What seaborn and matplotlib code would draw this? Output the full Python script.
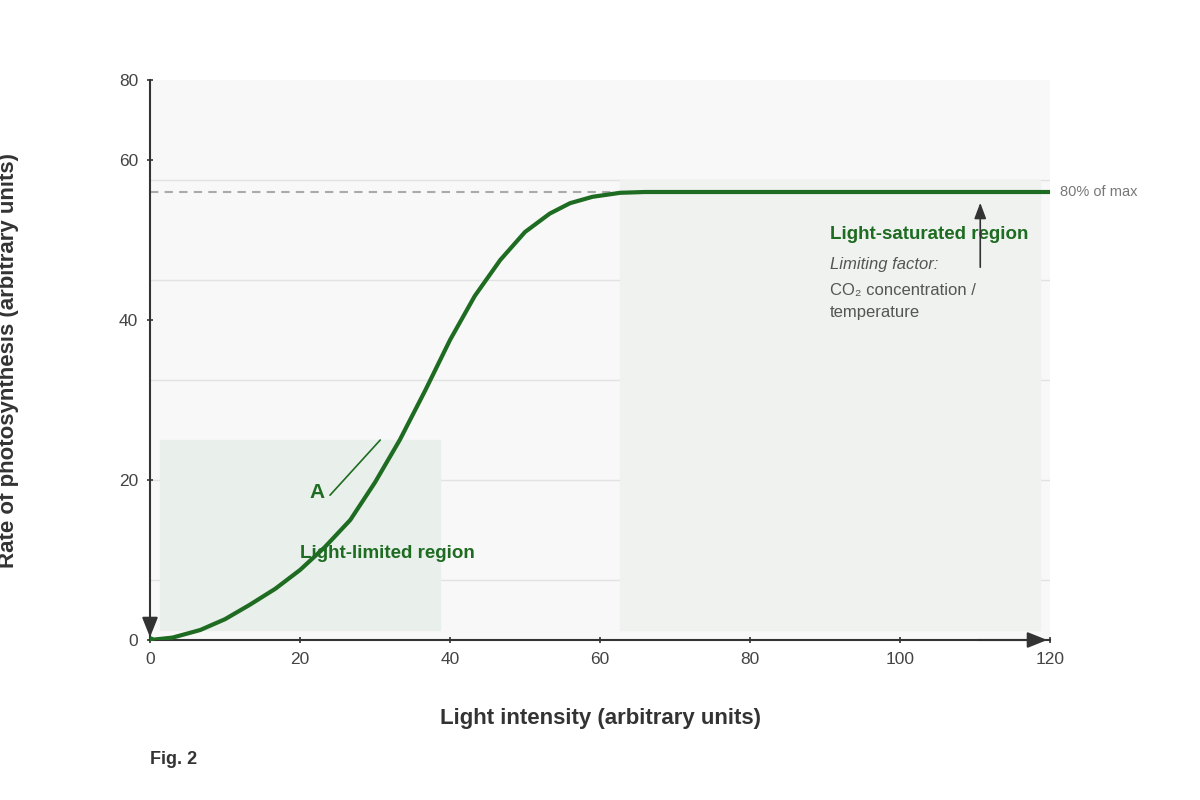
import numpy as np
import pandas as pd
import matplotlib
matplotlib.use("Agg")
import matplotlib.pyplot as plt
import seaborn as sns

# curve (light intensity, rate)
light = [0, 3, 6.7, 10, 13.3, 16.7, 20, 23.3, 26.7, 30, 33.3, 36.7, 40, 43.3, 46.7, 50, 53.3, 56, 59, 62.7, 66, 70, 80, 100, 120]
rate = [0, 0.3, 1.25, 2.6, 4.4, 6.4, 8.75, 11.6, 15, 19.7, 25, 31.2, 37.5, 43, 47.5, 51, 53.3, 54.6, 55.4, 55.9, 56, 56, 56, 56, 56]

xticks = [0, 20, 40, 60, 80, 100, 120]
ytick_vals = [0, 20, 40, 60, 70]
ytick_labels = ["0", "20", "40", "60", "80"]
grid_y = [7.5, 20, 32.5, 45, 57.5]
plateau = 56

green = "#1e6b22"
sns.set_theme(style="white")
plt.rcParams["font.family"] = ["Liberation Sans", "DejaVu Sans"]

fig = plt.figure(figsize=(12, 8), dpi=100)
ax = fig.add_axes([0.125, 0.2, 0.75, 0.7])
ax.set_facecolor("#f8f8f8")
ax.set_xlim(0, 120)
ax.set_ylim(0, 70)

for g in grid_y:
    ax.axhline(g, color="#e2e2e2", lw=1, zorder=0)

# shaded regions
ax.add_patch(plt.Rectangle((1.33, 1.25), 37.4, 23.75, color="#e9efea", zorder=1))
ax.add_patch(plt.Rectangle((62.7, 1.25), 56, 56.25, color="#eff2ef", zorder=1))

ax.axhline(plateau, color="#aaaaaa", lw=1.5, ls=(0, (4, 3)), zorder=2)

df = pd.DataFrame({"light": light, "rate": rate})
sns.lineplot(data=df, x="light", y="rate", color=green, lw=3, ax=ax, zorder=3)
ax.plot([0], [0], "o", color=green, ms=5, zorder=4)

for s in ["top", "right"]:
    ax.spines[s].set_visible(False)
for s in ["left", "bottom"]:
    ax.spines[s].set_color("#333333")
    ax.spines[s].set_linewidth(1.5)

ax.set_xticks(xticks)
ax.set_yticks(ytick_vals)
ax.set_yticklabels(ytick_labels)
ax.tick_params(axis="both", length=5, width=1.2, color="#333333", labelsize=12.5, labelcolor="#444444", direction="inout", pad=6, left=True, bottom=True)
ax.set_xlabel("Light intensity (arbitrary units)", fontsize=16, fontweight="bold", color="#333333", labelpad=30)
ax.set_ylabel("Rate of photosynthesis (arbitrary units)", fontsize=16, fontweight="bold", color="#333333", labelpad=72)

# axis arrows
ax.annotate("", xy=(120, 0), xytext=(110, 0), arrowprops=dict(arrowstyle="-|>,head_length=1,head_width=0.4", color="#333333", lw=1.5), annotation_clip=False)
ax.annotate("", xy=(0, 0), xytext=(0, 3), arrowprops=dict(arrowstyle="-|>,head_length=1,head_width=0.4", color="#333333", lw=1.5), annotation_clip=False)

# annotations
ax.text(21.3, 18.4, "A", color=green, fontsize=15, fontweight="bold", va="center")
ax.plot([24, 30.7], [18.1, 25], color=green, lw=1.2)
ax.text(20, 10.75, "Light-limited region", color=green, fontsize=13.5, fontweight="bold", va="center")
ax.text(90.7, 50.75, "Light-saturated region", color=green, fontsize=13.5, fontweight="bold", va="center")
ax.text(90.7, 46.9, "Limiting factor:", color="#555555", fontsize=12, style="italic", va="center")
ax.text(90.7, 43.75, "CO₂ concentration /", color="#555555", fontsize=12, va="center")
ax.text(90.7, 40.9, "temperature", color="#555555", fontsize=12, va="center")
ax.annotate("", xy=(110.7, 55), xytext=(110.7, 46.25), arrowprops=dict(arrowstyle="-|>,head_length=0.8,head_width=0.3", color="#333333", lw=1.2))
ax.text(121.3, plateau, "80% of max", color="#777777", fontsize=10.5, va="center", clip_on=False)

fig.text(0.125, 0.045, "Fig. 2", fontsize=13, fontweight="bold", color="#333333")

fig.savefig("out.png", dpi=100)
